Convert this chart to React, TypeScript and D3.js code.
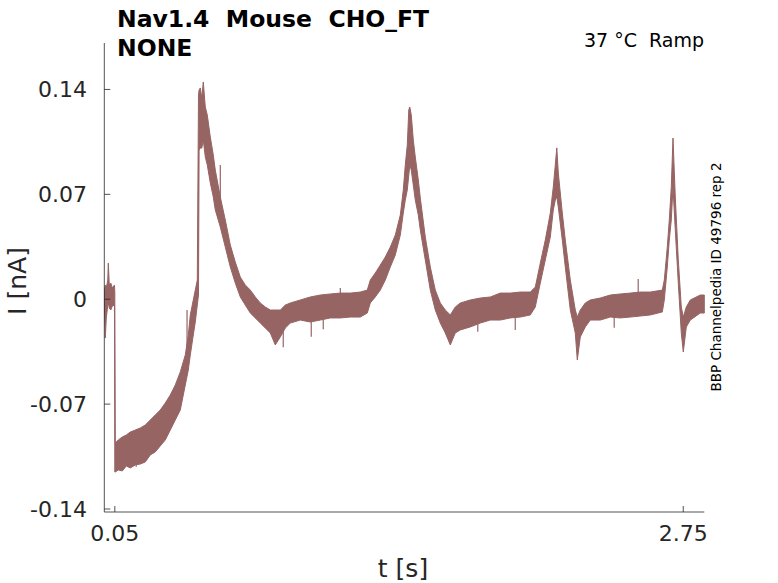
import React from "react";
import * as d3 from "d3";

// Ramp-protocol current trace: time (s), upper and lower envelope of the noisy band (nA)
const timeS = [
  0.001, 0.0048, 0.0095, 0.0166, 0.019, 0.0238, 0.0309, 0.038, 0.0484, 0.0499,
  0.0523, 0.0665, 0.0855, 0.1045, 0.1235, 0.1472, 0.171, 0.1947, 0.2185, 0.2422,
  0.266, 0.2897, 0.3135, 0.3372, 0.361, 0.3847, 0.399, 0.4085, 0.4227, 0.4322,
  0.4417, 0.4474, 0.4503, 0.456, 0.4631, 0.4702, 0.4797, 0.4892, 0.5035, 0.5177,
  0.5272, 0.551, 0.5747, 0.5985, 0.6222, 0.646, 0.6697, 0.6935, 0.7172, 0.741,
  0.7647, 0.7885, 0.8122, 0.836, 0.8597, 0.8835, 0.931, 0.9785, 1.026, 1.0735,
  1.121, 1.1685, 1.216, 1.2492, 1.2635, 1.2872, 1.311, 1.3347, 1.3585, 1.3822,
  1.406, 1.4202, 1.4297, 1.4392, 1.4463, 1.4511, 1.4582, 1.4677, 1.4772, 1.4915,
  1.501, 1.5247, 1.5485, 1.5722, 1.596, 1.6197, 1.6435, 1.6672, 1.691, 1.7385,
  1.786, 1.8335, 1.881, 1.9285, 1.976, 2.0235, 2.0472, 2.071, 2.0947, 2.1185,
  2.1327, 2.1422, 2.1494, 2.1565, 2.1755, 2.1897, 2.2135, 2.2372, 2.2467, 2.261,
  2.2847, 2.3085, 2.356, 2.4035, 2.451, 2.4985, 2.546, 2.5935, 2.6505, 2.66,
  2.6742, 2.6837, 2.6932, 2.7013, 2.7122, 2.7265, 2.7407, 2.7502, 2.7645, 2.7835,
  2.831, 2.85,
];
const upperNA = [
  0.0061, 0.0095, 0.0075, 0.0128, 0.0241, 0.0095, 0.0108, 0.0075, 0.0095, 0.0048,
  -0.0959, -0.0939, -0.0919, -0.0906, -0.0886, -0.0873, -0.0859, -0.0839, -0.0806, -0.0772,
  -0.0739, -0.0692, -0.0639, -0.0572, -0.0485, -0.0372, -0.0239, -0.0105, -0.0005, 0.0061,
  0.0128, 0.1363, 0.1396, 0.141, 0.1343, 0.145, 0.1283, 0.1229, 0.1083, 0.0962,
  0.0862, 0.0682, 0.0529, 0.0362, 0.0248, 0.0148, 0.0095, 0.0061, 0.0015, -0.0025,
  -0.0052, -0.0072, -0.0072, -0.0072, -0.0039, -0.0025, -0.0005, 0.0015, 0.0028, 0.0035,
  0.0041, 0.0041, 0.0048, 0.0061, 0.0128, 0.0175, 0.0228, 0.0282, 0.0348, 0.0428,
  0.0562, 0.0729, 0.0896, 0.1029, 0.1263, 0.1283, 0.1229, 0.1062, 0.0949, 0.0796,
  0.0675, 0.0415, 0.0215, 0.0061, -0.0025, -0.0072, -0.0105, -0.0052, -0.0025, -0.0005,
  0.0008, 0.0015, 0.0041, 0.0041, 0.0048, 0.0048, 0.0081, 0.0241, 0.0395, 0.0575,
  0.0749, 0.0896, 0.101, 0.0842, 0.0575, 0.0395, 0.0128, -0.0072, -0.0119, -0.0072,
  -0.0025, -0.0005, 0.0008, 0.0028, 0.0035, 0.0041, 0.0048, 0.0048, 0.0061, 0.0128,
  0.0348, 0.0529, 0.0749, 0.1076, 0.0682, 0.0262, -0.0052, -0.0119, -0.0052, -0.0005,
  0.0028, 0.0028,
];
const lowerNA = [
  -0.0059, -0.0259, -0.0125, -0.0039, -0.0025, -0.0059, -0.0072, -0.0045, -0.0039, -0.1153,
  -0.1153, -0.1139, -0.1146, -0.1113, -0.1126, -0.1106, -0.11, -0.1086, -0.1039, -0.1019,
  -0.0979, -0.0939, -0.0873, -0.0806, -0.0739, -0.0572, -0.0472, -0.0372, -0.0239, -0.0152,
  -0.0039, 0.0028, 0.0996, 0.1009, 0.1009, 0.1062, 0.0949, 0.0896, 0.0776, 0.0682,
  0.0596, 0.0482, 0.0348, 0.0215, 0.0108, 0.0015, -0.0039, -0.0092, -0.0125, -0.0159,
  -0.0192, -0.0225, -0.0305, -0.0252, -0.0192, -0.0159, -0.0139, -0.0152, -0.0139, -0.0125,
  -0.0125, -0.0119, -0.0119, -0.0092, -0.0025, 0.0015, 0.0061, 0.0128, 0.0215, 0.0295,
  0.0428, 0.0575, 0.0662, 0.0729, 0.0829, 0.0896, 0.0862, 0.0762, 0.0662, 0.0562,
  0.0462, 0.0262, 0.0061, -0.0072, -0.0159, -0.0225, -0.0305, -0.0225, -0.0205, -0.0185,
  -0.0159, -0.0139, -0.0139, -0.0125, -0.0119, -0.0105, -0.0052, 0.0108, 0.0262, 0.0415,
  0.0596, 0.0662, 0.0683, 0.0615, 0.0395, 0.0215, -0.0072, -0.0225, -0.0405, -0.0252,
  -0.0185, -0.0139, -0.0139, -0.0119, -0.0125, -0.0119, -0.0112, -0.0105, -0.0085, -0.0005,
  0.0215, 0.0395, 0.0529, 0.0749, 0.0462, 0.0108, -0.0225, -0.0352, -0.0185, -0.0139,
  -0.0092, -0.0092,
];

// individual noise spikes sticking out of the band: time (s), tip value (nA)
const spikeT = [0.1515, 0.393, 0.551, 0.85, 0.983, 1.04, 1.121, 1.774, 1.952, 2.422, 2.536];
const spikeV = [-0.1118, -0.0072, 0.0896, -0.032, -0.025, -0.02, 0.0075, -0.0217, -0.0205, -0.019, 0.0135];

const yTicks = [-0.14, -0.07, 0, 0.07, 0.14];
const yTickLabels = ["-0.14", "-0.07", "0", "0.07", "0.14"];
const xTicks = [0.05, 2.75];
const xTickLabels = ["0.05", "2.75"];

const titleLines = ["Nav1.4  Mouse  CHO_FT", "NONE"];
const conditionText = "37 °C  Ramp";
const sideText = "BBP Channelpedia ID 49796 rep 2";

const W = 778;
const H = 583;
const FONT = "'DejaVu Sans', sans-serif";
const TRACE = "#976464";
const AXIS = "#262626";

export default function App() {
  const x = d3.scaleLinear().domain([0, 2.85]).range([104.3, 704.3]);
  const y = d3.scaleLinear().domain([-0.142, 0.171]).range([512, 43]);

  const idx = d3.range(timeS.length);
  const area = d3
    .area<number>()
    .x((i) => x(timeS[i]))
    .y0((i) => y(lowerNA[i]))
    .y1((i) => y(upperNA[i]))
    .curve(d3.curveLinear);

  const mid = (t: number) => {
    const j = Math.max(1, d3.bisectLeft(timeS, t));
    const a = timeS[j - 1], b = timeS[j];
    const f = (t - a) / (b - a);
    const m0 = (upperNA[j - 1] + lowerNA[j - 1]) / 2;
    const m1 = (upperNA[j] + lowerNA[j]) / 2;
    return m0 + f * (m1 - m0);
  };

  const [x0, x1] = x.range();
  const [yb, yt] = y.range();

  return (
    <svg
      width={W}
      height={H}
      style={{ position: "absolute", left: 0, top: 0, background: "#fff" }}
      fontFamily={FONT}
    >
      <rect width={W} height={H} fill="#fff" />
      <path d={area(idx) || ""} fill={TRACE} stroke={TRACE} strokeWidth={1} strokeLinejoin="round" />
      {spikeT.map((t, i) => (
        <line
          key={i}
          x1={x(t)}
          x2={x(t)}
          y1={y(mid(t))}
          y2={y(spikeV[i])}
          stroke={TRACE}
          strokeWidth={1.2}
        />
      ))}

      {/* axes */}
      <line x1={x0} x2={x0} y1={yb} y2={yt} stroke={AXIS} strokeWidth={0.8} />
      <line x1={x0} x2={x1} y1={yb} y2={yb} stroke={AXIS} strokeWidth={0.8} />
      {yTicks.map((v, i) => (
        <g key={"y" + i}>
          <line x1={x0} x2={x0 + 6} y1={y(v)} y2={y(v)} stroke={AXIS} strokeWidth={0.8} />
          <text
            x={87}
            y={y(v)}
            dy="0.36em"
            textAnchor="end"
            fontSize={22}
            fill={AXIS}
          >
            {yTickLabels[i]}
          </text>
        </g>
      ))}
      {xTicks.map((v, i) => (
        <g key={"x" + i}>
          <line x1={x(v)} x2={x(v)} y1={yb} y2={yb - 6} stroke={AXIS} strokeWidth={0.8} />
          <text x={x(v)} y={541} textAnchor="middle" fontSize={22} fill={AXIS}>
            {xTickLabels[i]}
          </text>
        </g>
      ))}

      <text x={403} y={577} textAnchor="middle" fontSize={25} fill={AXIS} style={{ whiteSpace: "pre" }}>
        t [s]
      </text>
      <text
        transform={`translate(26,281) rotate(-90)`}
        textAnchor="middle"
        fontSize={25}
        fill={AXIS}
        style={{ whiteSpace: "pre" }}
      >
        I [nA]
      </text>

      {titleLines.map((s, i) => (
        <text
          key={"t" + i}
          x={117}
          y={27 + i * 29}
          fontSize={23.5}
          fontWeight="bold"
          fill="#000"
          style={{ whiteSpace: "pre" }}
        >
          {s}
        </text>
      ))}
      <text x={704} y={47} textAnchor="end" fontSize={19} fill="#000" style={{ whiteSpace: "pre" }}>
        {conditionText}
      </text>
      <text
        transform={`translate(721,277) rotate(-90)`}
        textAnchor="middle"
        fontSize={13.5}
        fill="#000"
      >
        {sideText}
      </text>
    </svg>
  );
}
